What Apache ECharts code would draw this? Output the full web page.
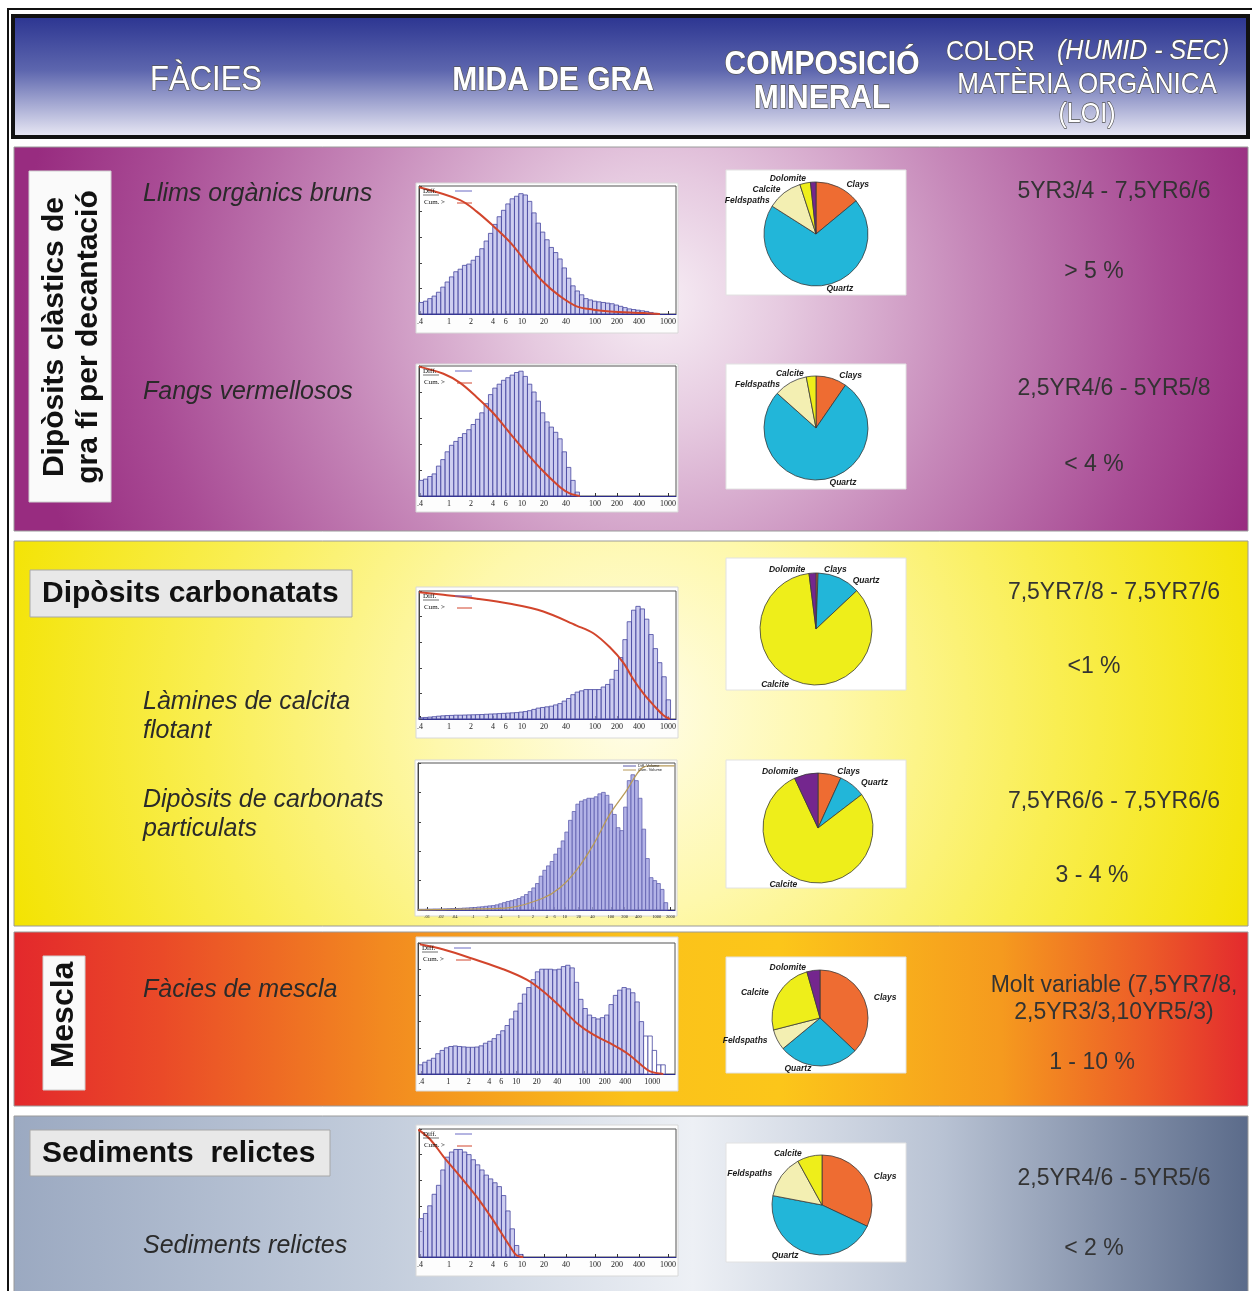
<!DOCTYPE html>
<html><head><meta charset="utf-8">
<script src="https://cdn.jsdelivr.net/npm/echarts@6/dist/echarts.min.js"></script>
<style>html,body{margin:0;padding:0;background:#fff}#c{width:1252px;height:1291px}</style>
</head><body><div id="c"></div><script>
// ---------- DATA ----------
const sizeTicks = [0.4, 1, 2, 4, 6, 10, 20, 40, 100, 200, 400, 1000];
const sizeTickText = ['.4', '1', '2', '4', '6', '10', '20', '40', '100', '200', '400', '1000'];
const fineTicks = [0.01, 0.02, 0.04, 0.1, 0.2, 0.4, 1, 2, 4, 6, 10, 20, 40, 100, 200, 400, 1000, 2000];
const fineTickText = ['.01', '.02', '.04', '.1', '.2', '.4', '1', '2', '4', '6', '10', '20', '40', '100', '200', '400', '1000', '2000'];

// Llims orgànics bruns
const llimsDiff = [9,10,12,14,17,21,25,29,33,35,38,39,42,45,51,57,63,70,76,81,86,90,92,94,93,88,79,71,64,58,52,48,43,36,28,22,18,15,12,11,10,9.5,9,8.5,8,7,6,5,4,3.5,3,2.5,2,1.2,0.5];
const llimsCumSize = [0.39,1.42,2.4,4.0,6.9,11.6,19.6,33,56,95,160,460,776];
const llimsCum = [99,89,80,69,56,40,25,14,6,3.4,2,0.8,0];
// Fangs vermellosos
const fangsDiff = [12,13,15,17,23,28,34,39,42,45,48,51,55,59,64,71,78,83,86,89,91,93,95,96,92,86,80,73,64,57,53,49,44,34,22,12,3];
const fangsCumSize = [0.39,0.84,1.42,2.4,4.0,6.9,11.6,19.6,33,45,62];
const fangsCum = [99.5,94,87,76,64,48,33,19,7,2,0];
// Làmines de calcita flotant
const laminesDiff = [1,1.2,1.5,1.8,2.2,2.5,2.7,2.8,3,3,3.1,3.2,3.3,3.4,3.5,3.7,3.9,4,4.2,4.4,4.6,4.8,5,5.4,5.8,6.5,7.5,8.5,9,9.5,10,11,12,14,16,19,21,22,23,23,23,23,25,27,31,38,48,62,76,85,88,86,78,66,55,44,33,15];
const laminesCumSize = [0.39,0.84,2.4,6.9,19.6,56,95,160,244,335,460,630,863,1065];
const laminesCum = [99,97,94,90,84,73,67,56,44,31,20,11,3,0];
// Dipòsits de carbonats particulats
const carbDiff = [0.5,0.5,0.6,0.6,0.7,0.7,0.7,0.8,0.9,1.0,1.0,1.1,1.3,1.4,1.6,1.7,2.0,2.2,2.5,2.8,3.0,3.5,4.2,5,5.8,6.3,7,7.8,9,10.5,12.5,15,18,23,27,30,33,38,42,47,53,61,67,72,74,75,76,76,77,79,80,78,72,65,56,54,70,88,92,88,76,55,35,22,20,18,14,5];
const carbCumSize = [0.0063,0.118,0.63,3.3,7.7,17.8,41,95,218,360,504,703,2466];
const carbCum = [0,0.7,1.6,8,15,27,44,65,81,92,97,98,98];
// Fàcies de mescla
const mesclaDiff = [7,9,10.5,12,15.5,18,20,21,21.4,21,20.7,20.4,20.4,20.6,21.5,23.5,25,27,30,33,37,42,48,54,61,66,72,78,80,80,80,79.5,80,82,83,81,70,57,50,45,43,42,43,45,53,60,64,66,65,62,55,40,29,29,18,7,7];
const mesclaCumSize = [0.38,0.85,2.6,6.4,14.2,25,44,77,136,239,421,738,925,1452];
const mesclaCum = [99,95,87,80,72,63,51.5,39,30,23.5,16,5.6,2,0];
// Sediments relictes
const relDiff = [30,34,40,49,56,68,78,82,84,84,82,80,76,72,68,64,61,58,55,48,36,22,9,2];
const relCumSize = [0.38,0.55,0.84,1.42,2.4,4.0,6.9,8.4,10.4];
const relCum = [99.5,92,78.5,63,47,29,8,1.3,0];

// Mineral composition (%), order: Clays, Quartz, Feldspaths, Calcite, Dolomite
const mineralNames = ['Clays', 'Quartz', 'Feldspaths', 'Calcite', 'Dolomite'];
const llimsMin = [14, 70, 11, 3.3, 1.7];
const fangsMin = [9.6, 77, 10.4, 3, 0];
const laminesMin = [0.6, 12.4, 0, 85, 2];
const carbMin = [6.8, 7.8, 0, 78.4, 7];
const mesclaMin = [37, 27, 7, 24.6, 4.4];
const relMin = [32, 46, 14, 8, 0];

// ---------- STYLE / LAYOUT ----------
const mineralColors = ['#ee6c32', '#22b6d9', '#f3efb2', '#eeee1a', '#74268e'];
const L = Math.log10;
const SANS = '"Liberation Sans", Arial, sans-serif';

const hists = [
  {diff: llimsDiff, start: -0.41, w: 0.0594, cumS: llimsCumSize, cum: llimsCum, grid: [419, 186, 257, 128], box: [416, 183, 262, 150], min: -0.411, max: 3.11, ticks: sizeTicks, txt: sizeTickText, fs: 8, cumColor: '#d2452c', legend: 'tl'},
  {diff: fangsDiff, start: -0.41, w: 0.0594, cumS: fangsCumSize, cum: fangsCum, grid: [419, 366, 257, 130], box: [416, 364, 262, 148], min: -0.411, max: 3.11, ticks: sizeTicks, txt: sizeTickText, fs: 8, cumColor: '#d2452c', legend: 'tl'},
  {diff: laminesDiff, start: -0.41, w: 0.0594, cumS: laminesCumSize, cum: laminesCum, grid: [419, 591, 257, 128], box: [416, 587, 262, 151], min: -0.411, max: 3.11, ticks: sizeTicks, txt: sizeTickText, fs: 8, cumColor: '#d2452c', legend: 'tl'},
  {diff: carbDiff, start: -2.2, w: 0.08, cumS: carbCumSize, cum: carbCum, grid: [418, 763, 257, 147], box: [415, 760, 262, 156], min: -2.2, max: 3.4, ticks: fineTicks, txt: fineTickText, fs: 4.5, cumColor: '#b89a58', legend: 'tr'},
  {diff: mesclaDiff, start: -0.44, w: 0.0637, cumS: mesclaCumSize, cum: mesclaCum, grid: [418, 943, 257, 131], box: [416, 937, 262, 154], min: -0.446, max: 3.334, ticks: sizeTicks, txt: sizeTickText, fs: 8, cumColor: '#d2452c', legend: 'tl', openFrom: 52},
  {diff: relDiff, start: -0.41, w: 0.0594, cumS: relCumSize, cum: relCum, grid: [419, 1129, 257, 128], box: [416, 1125, 262, 151], min: -0.411, max: 3.11, ticks: sizeTicks, txt: sizeTickText, fs: 8, cumColor: '#d2452c', legend: 'tl'}
];

const pies = [
  {vals: llimsMin, center: [816, 234], r: 52, box: [726, 170, 180, 125]},
  {vals: fangsMin, center: [816, 428], r: 52, box: [726, 364, 180, 125]},
  {vals: laminesMin, center: [816, 629], r: 56, box: [726, 558, 180, 132]},
  {vals: carbMin, center: [818, 828], r: 55, box: [726, 760, 180, 128]},
  {vals: mesclaMin, center: [820, 1018], r: 48, box: [726, 957, 180, 116]},
  {vals: relMin, center: [822, 1205], r: 50, box: [726, 1143, 180, 119]}
];

const grids = [], xAxes = [], yAxes = [], series = [], graphics = [];

function rect(x, y, w, h, fill, stroke, lw, z) {
  return {type: 'rect', z: z == null ? -10 : z, silent: true, shape: {x, y, width: w, height: h},
    style: {fill: fill, stroke: stroke || null, lineWidth: lw || 0}};
}
function txt(text, x, y, font, fill, align, extra) {
  return Object.assign({type: 'text', z: 20, silent: true, x, y,
    style: {text, font, fill: fill || '#2a2a2a', textAlign: align || 'left', textVerticalAlign: 'middle'}}, extra || {});
}
function line(x1, y1, x2, y2, color, w) {
  return {type: 'line', z: 20, silent: true, shape: {x1, y1, x2, y2}, style: {stroke: color, lineWidth: w || 1}};
}

// outer frame
graphics.push(rect(8, 9, 1246, 1290, '#fff', '#111', 2, -20));
// header
graphics.push(rect(13, 16, 1235, 121, new echarts.graphic.LinearGradient(0, 0, 0, 1, [
  {offset: 0, color: '#2a3390'}, {offset: 0.45, color: '#5d66ae'}, {offset: 1, color: '#eeedf7'}]), '#111', 4, -9));

// bands
graphics.push(rect(14, 147, 1234, 384, {type: 'radial', x: 0.52, y: 0.4, r: 1.65, colorStops: [
  {offset: 0, color: '#f7eef5'}, {offset: 0.2, color: '#e6cae0'}, {offset: 0.5, color: '#c688b9'},
  {offset: 0.8, color: '#a94c95'}, {offset: 1, color: '#982c80'}]}, '#9a9a9a', 1));
graphics.push(rect(14, 541, 1234, 385, {type: 'radial', x: 0.5, y: 0.45, r: 1.7, colorStops: [
  {offset: 0, color: '#fffde9'}, {offset: 0.3, color: '#fef8ac'}, {offset: 0.65, color: '#f9ee52'},
  {offset: 1, color: '#f3e300'}]}, '#9a9a9a', 1));
graphics.push(rect(14, 932, 1234, 174, new echarts.graphic.LinearGradient(0, 0, 1, 0, [
  {offset: 0, color: '#e3282c'}, {offset: 0.12, color: '#ea4a28'}, {offset: 0.3, color: '#f28a20'},
  {offset: 0.5, color: '#fbc21a'}, {offset: 0.62, color: '#fcc61a'}, {offset: 0.8, color: '#f59a1e'},
  {offset: 0.92, color: '#ec5a28'}, {offset: 1, color: '#e32a2e'}]), '#9a9a9a', 1));
graphics.push(rect(14, 1116, 1234, 180, new echarts.graphic.LinearGradient(0, 0, 1, 0, [
  {offset: 0, color: '#9ba9c1'}, {offset: 0.3, color: '#c3cddc'}, {offset: 0.55, color: '#edf0f5'},
  {offset: 0.75, color: '#b9c3d4'}, {offset: 1, color: '#5b6b8a'}]), '#9a9a9a', 1));

// header texts
function htxt(text, x, y, font, align) {
  const t = txt(text, x, y, font, '#ffffff', align || 'center', {scaleY: 1.12});
  t.style.stroke = '#555';
  t.style.lineWidth = 1.2;
  return t;
}
graphics.push(htxt('FÀCIES', 206, 80, '31px ' + SANS));
graphics.push(htxt('MIDA DE GRA', 553, 81, 'bold 30px ' + SANS));
graphics.push(htxt('COMPOSICIÓ', 822, 65, 'bold 30px ' + SANS));
graphics.push(htxt('MINERAL', 822, 99, 'bold 30px ' + SANS));
graphics.push(htxt('COLOR', 946, 52, '25px ' + SANS, 'left'));
graphics.push(htxt('(HUMID - SEC)', 1057, 51, 'italic 25px ' + SANS, 'left'));
graphics.push(htxt('MATÈRIA ORGÀNICA', 1087, 85, '26px ' + SANS));
graphics.push(htxt('(LOI)', 1087, 114, '25px ' + SANS));

// group label boxes
graphics.push(rect(29, 171, 82, 331, '#fafafa', '#cfcfcf', 1, -5));
graphics.push(txt('Dipòsits clàstics de', 55, 337, 'bold 30px ' + SANS, '#111', 'center', {rotation: Math.PI / 2}));
graphics.push(txt('gra fí per decantació', 89, 337, 'bold 30px ' + SANS, '#111', 'center', {rotation: Math.PI / 2}));
graphics.push(rect(30, 570, 322, 47, '#e8e8e8', '#a8a8a8', 1, -5));
graphics.push(txt('Dipòsits carbonatats', 42, 594, 'bold 30px ' + SANS, '#111'));
graphics.push(rect(43, 956, 42, 134, '#fafafa', '#cfcfcf', 1, -5));
graphics.push(txt('Mescla', 64, 1015, 'bold 32px ' + SANS, '#111', 'center', {rotation: Math.PI / 2}));
graphics.push(rect(30, 1130, 300, 46, '#e8e8e8', '#a8a8a8', 1, -5));
graphics.push(txt('Sediments  relictes', 42, 1154, 'bold 30px ' + SANS, '#111'));

// facies names
const IT = 'italic 25px ' + SANS;
graphics.push(txt('Llims orgànics bruns', 143, 194, IT));
graphics.push(txt('Fangs vermellosos', 143, 392, IT));
graphics.push(txt('Làmines de calcita', 143, 702, IT));
graphics.push(txt('flotant', 143, 731, IT));
graphics.push(txt('Dipòsits de carbonats', 143, 800, IT));
graphics.push(txt('particulats', 143, 829, IT));
graphics.push(txt('Fàcies de mescla', 143, 990, IT));
graphics.push(txt('Sediments relictes', 143, 1246, IT));

// colour / LOI
const RT = '23px ' + SANS;
graphics.push(txt('5YR3/4 - 7,5YR6/6', 1114, 192, RT, '#333', 'center'));
graphics.push(txt('> 5 %', 1094, 272, RT, '#333', 'center'));
graphics.push(txt('2,5YR4/6 - 5YR5/8', 1114, 389, RT, '#333', 'center'));
graphics.push(txt('< 4 %', 1094, 465, RT, '#333', 'center'));
graphics.push(txt('7,5YR7/8 - 7,5YR7/6', 1114, 593, RT, '#333', 'center'));
graphics.push(txt('<1 %', 1094, 667, RT, '#333', 'center'));
graphics.push(txt('7,5YR6/6 - 7,5YR6/6', 1114, 802, RT, '#333', 'center'));
graphics.push(txt('3 - 4 %', 1092, 876, RT, '#333', 'center'));
graphics.push(txt('Molt variable (7,5YR7/8,', 1114, 986, RT, '#333', 'center'));
graphics.push(txt('2,5YR3/3,10YR5/3)', 1114, 1013, RT, '#333', 'center'));
graphics.push(txt('1 - 10 %', 1092, 1063, RT, '#333', 'center'));
graphics.push(txt('2,5YR4/6 - 5YR5/6', 1114, 1179, RT, '#333', 'center'));
graphics.push(txt('< 2 %', 1094, 1249, RT, '#333', 'center'));

// histograms
hists.forEach((h, i) => {
  const [gl, gt, gw, gh] = h.grid;
  graphics.push(rect(h.box[0], h.box[1], h.box[2], h.box[3], '#fdfdfd', '#d8d8d8', 1, -5));
  grids.push({left: gl, top: gt, width: gw, height: gh, show: true, backgroundColor: '#fff', borderColor: '#555', borderWidth: 1});
  const tv = h.ticks.map(t => L(t));
  xAxes.push({type: 'value', gridIndex: i, min: h.min, max: h.max,
    axisLine: {show: true, onZero: false, lineStyle: {color: '#2c2c8c', width: 1.2}},
    axisTick: {show: true, inside: true, length: 3, customValues: tv, lineStyle: {color: '#333'}},
    axisLabel: {show: true, customValues: tv, margin: 4, fontSize: h.fs, fontFamily: '"Liberation Serif", serif', color: '#222',
      formatter: v => { const k = tv.findIndex(t => Math.abs(t - v) < 1e-6); return k >= 0 ? h.txt[k] : ''; }},
    splitLine: {show: false}});
  yAxes.push({type: 'value', gridIndex: i, min: 0, max: 100, interval: 20,
    axisLine: {show: true, onZero: false, lineStyle: {color: '#444'}}, axisTick: {show: true, inside: true, length: 3, lineStyle: {color: '#444'}},
    axisLabel: {show: false}, splitLine: {show: false}});
  const isCarb = h.legend === 'tr';
  series.push({type: 'custom', xAxisIndex: i, yAxisIndex: i, silent: true, z: 2,
    data: h.diff.map((v, k) => [h.start + k * h.w, h.start + (k + 1) * h.w, v]),
    encode: {x: [0, 1], y: 2},
    renderItem: (params, api) => {
      const p0 = api.coord([api.value(0), api.value(2)]);
      const p1 = api.coord([api.value(1), 0]);
      const open = h.openFrom != null && params.dataIndex >= h.openFrom;
      return {type: 'rect', shape: {x: p0[0], y: p0[1], width: p1[0] - p0[0], height: p1[1] - p0[1]},
        style: {fill: open ? '#ffffff' : (isCarb ? 'rgba(160,160,225,0.8)' : 'rgba(178,178,232,0.65)'),
          stroke: isCarb ? '#6262b0' : '#4646a0', lineWidth: 0.8}};
    }});
  series.push({type: 'line', xAxisIndex: i, yAxisIndex: i, silent: true, z: 3,
    data: h.cumS.map((s, k) => [L(s), h.cum[k]]), smooth: 0.35, symbol: 'none',
    lineStyle: {color: h.cumColor, width: isCarb ? 1.3 : 2}});
  if (h.legend === 'tl') {
    graphics.push(txt('Diff.', gl + 4, gt + 5, '7px "Liberation Serif", serif', '#111'));
    graphics.push(line(gl + 4, gt + 9, gl + 20, gt + 9, '#111', 0.6));
    graphics.push(line(gl + 36, gt + 5, gl + 53, gt + 5, '#6a6ac4', 1));
    graphics.push(txt('Cum. >', gl + 5, gt + 16, '7px "Liberation Serif", serif', '#111'));
    graphics.push(line(gl + 38, gt + 17, gl + 53, gt + 17, '#d2452c', 1));
  } else {
    graphics.push(line(gl + 205, gt + 3, gl + 218, gt + 3, '#5a5aa8', 1));
    graphics.push(txt('Diff. Volume', gl + 220, gt + 3, '4px ' + SANS, '#222'));
    graphics.push(line(gl + 205, gt + 7, gl + 218, gt + 7, '#b89a58', 1));
    graphics.push(txt('Cum. Volume', gl + 220, gt + 7, '4px ' + SANS, '#222'));
  }
});

// pies
pies.forEach(p => {
  graphics.push(rect(p.box[0], p.box[1], p.box[2], p.box[3], '#ffffff', '#e2e2e2', 1, -5));
  series.push({type: 'pie', silent: true, z: 4, center: p.center, radius: p.r, startAngle: 90, clockwise: true,
    data: mineralNames.map((n, k) => ({name: n, value: p.vals[k], itemStyle: {color: mineralColors[k]}})).filter(d => d.value > 0),
    itemStyle: {borderColor: '#3a3a3a', borderWidth: 0.8},
    label: {show: true, position: 'outside', formatter: '{b}', fontSize: 8.5, fontStyle: 'italic', fontWeight: 'bold',
      fontFamily: SANS, color: '#1a1a1a'},
    labelLine: {show: false, length: 3, length2: 2}});
});

const chart = echarts.init(document.getElementById('c'), null, {width: 1252, height: 1291});
chart.setOption({animation: false, backgroundColor: '#ffffff', grid: grids, xAxis: xAxes, yAxis: yAxes, series, graphic: {elements: graphics}});
</script></body></html>
